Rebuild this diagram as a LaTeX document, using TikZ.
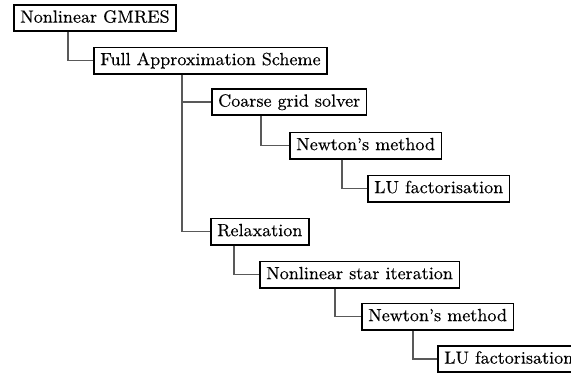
\documentclass[tikz,border=0pt]{standalone}
\usepackage{fontspec}
\setmainfont{Latin Modern Roman}[UprightFeatures={FakeBold=0.2}]
\tikzstyle{solver} = [rectangle, draw=black, line width=0.8pt, anchor=west, font=\fontsize{8.8}{10}\selectfont, inner xsep=3.2pt, inner ysep=2.5pt, text height=6.4pt, text depth=1.8pt]
\tikzstyle{link} = [draw=black!65, line width=0.6pt]

\begin{document}
\begin{tikzpicture}[x=0.5pt, y=-0.5pt]
\useasboundingbox (0,0) rectangle (571,372);

\node (ngmres) [solver] at (13,18) {Nonlinear GMRES};
\node (fas) [solver] at (93,60.5) {Full Approximation Scheme};
\node (coarse) [solver] at (211,102) {Coarse grid solver};
\node (newtonA) [solver] at (289,145.5) {Newton's method};
\node (luA) [solver] at (367,188.5) {LU factorisation};
\node (relax) [solver] at (210,231.5) {Relaxation};
\node (star) [solver] at (259,274.5) {Nonlinear star iteration};
\node (newtonB) [solver] at (361,316.5) {Newton's method};
\node (luB) [solver] at (437,359) {LU factorisation};

\draw [link] ([xshift=27.5pt]ngmres.south west) |- (fas.west);
\draw [link] ([xshift=44.5pt]fas.south west) |- (coarse.west);
\draw [link] ([xshift=44.5pt]fas.south west) |- (relax.west);
\draw [link] ([xshift=25pt]coarse.south west) |- (newtonA.west);
\draw [link] ([xshift=26.5pt]newtonA.south west) |- (luA.west);
\draw [link] ([xshift=12pt]relax.south west) |- (star.west);
\draw [link] ([xshift=38pt]star.south west) |- (newtonB.west);
\draw [link] ([xshift=26pt]newtonB.south west) |- (luB.west);

\end{tikzpicture}
\end{document}
